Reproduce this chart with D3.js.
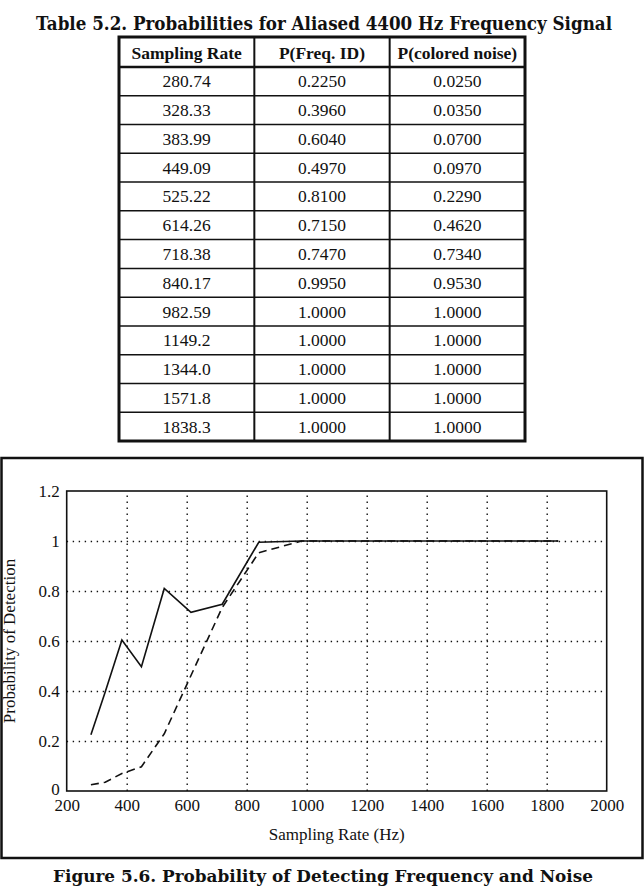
<!DOCTYPE html>
<html>
<head>
<meta charset="utf-8">
<script src="https://cdn.jsdelivr.net/npm/d3@7/dist/d3.min.js"></script>
<style>
  body { margin: 0; background: #fff; }
  svg { display: block; }
  .serif { font-family: "Liberation Serif", "Times New Roman", serif; fill: #111; }
  .heavy { font-family: "DejaVu Serif", serif; font-weight: bold; fill: #111; }
</style>
</head>
<body>
<svg id="page" width="644" height="888"></svg>
<script>
// table / chart values
var samplingRate = [280.74, 328.33, 383.99, 449.09, 525.22, 614.26, 718.38, 840.17, 982.59, 1149.2, 1344.0, 1571.8, 1838.3];
var pFreqId = [0.2250, 0.3960, 0.6040, 0.4970, 0.8100, 0.7150, 0.7470, 0.9950, 1.0000, 1.0000, 1.0000, 1.0000, 1.0000];
var pColoredNoise = [0.0250, 0.0350, 0.0700, 0.0970, 0.2290, 0.4620, 0.7340, 0.9530, 1.0000, 1.0000, 1.0000, 1.0000, 1.0000];
var tableHeaders = ["Sampling Rate", "P(Freq. ID)", "P(colored noise)"];
var xTicks = [200, 400, 600, 800, 1000, 1200, 1400, 1600, 1800, 2000];
var yTicks = [0, 0.2, 0.4, 0.6, 0.8, 1, 1.2];
var tableTitle = "Table 5.2.  Probabilities for Aliased 4400 Hz Frequency Signal";
var figureCaption = "Figure 5.6.  Probability of Detecting Frequency and Noise";
var xTitle = "Sampling Rate (Hz)";
var yTitle = "Probability of Detection";

var svg = d3.select("#page");
var ink = "#111";

/*
 * table title + table
 */
svg.append("text")
    .attr("class", "heavy")
    .attr("x", 324)
    .attr("y", 30)
    .attr("text-anchor", "middle")
    .attr("font-size", 18)
    .attr("textLength", 576)
    .attr("lengthAdjust", "spacingAndGlyphs")
    .text(tableTitle);

var tbl = { left: 119, right: 525, top: 37, headBottom: 67, bottom: 441 };
var col = d3.scaleBand().domain(d3.range(tableHeaders.length)).range([tbl.left, tbl.right]);
var row = d3.scaleBand().domain(d3.range(samplingRate.length)).range([tbl.headBottom, tbl.bottom]);
var rateFmt = d3.format(".5r"),
    probFmt = d3.format(".4f");

var table = svg.append("g").attr("class", "table");

// row separators
table.selectAll("line.row")
    .data(d3.range(1, samplingRate.length))
    .join("line")
    .attr("class", "row")
    .attr("x1", tbl.left).attr("x2", tbl.right)
    .attr("y1", function(i) { return row(i); })
    .attr("y2", function(i) { return row(i); })
    .attr("stroke", ink).attr("stroke-width", 1.5);

// column separators
table.selectAll("line.col")
    .data(d3.range(1, tableHeaders.length))
    .join("line")
    .attr("class", "col")
    .attr("x1", function(i) { return col(i); })
    .attr("x2", function(i) { return col(i); })
    .attr("y1", tbl.top).attr("y2", tbl.bottom)
    .attr("stroke", ink).attr("stroke-width", 2);

// header bottom rule
table.append("line")
    .attr("x1", tbl.left).attr("x2", tbl.right)
    .attr("y1", tbl.headBottom).attr("y2", tbl.headBottom)
    .attr("stroke", ink).attr("stroke-width", 2.5);

table.append("rect")
    .attr("x", tbl.left).attr("y", tbl.top)
    .attr("width", tbl.right - tbl.left)
    .attr("height", tbl.bottom - tbl.top)
    .attr("fill", "none")
    .attr("stroke", ink).attr("stroke-width", 3);

table.selectAll("text.head")
    .data(tableHeaders)
    .join("text")
    .attr("class", "head serif")
    .attr("x", function(d, i) { return col(i) + col.bandwidth() / 2; })
    .attr("y", 59)
    .attr("text-anchor", "middle")
    .attr("font-size", 17.5)
    .attr("font-weight", "bold")
    .text(function(d) { return d; });

var cells = [];
samplingRate.forEach(function(r, i) {
    cells.push({ i: i, c: 0, txt: rateFmt(r) });
    cells.push({ i: i, c: 1, txt: probFmt(pFreqId[i]) });
    cells.push({ i: i, c: 2, txt: probFmt(pColoredNoise[i]) });
});

table.selectAll("text.cell")
    .data(cells)
    .join("text")
    .attr("class", "cell serif")
    .attr("x", function(d) { return col(d.c) + col.bandwidth() / 2; })
    .attr("y", function(d) { return row(d.i) + row.bandwidth() / 2 + 6; })
    .attr("text-anchor", "middle")
    .attr("font-size", 17.5)
    .text(function(d) { return d.txt; });

/*
 * figure frame + plot
 */
svg.append("rect")
    .attr("x", 1.5).attr("y", 458)
    .attr("width", 641).attr("height", 400)
    .attr("fill", "none")
    .attr("stroke", ink).attr("stroke-width", 2.5);

var plot = { left: 66.7, right: 606.7, top: 491, bottom: 791 };
var x = d3.scaleLinear().domain([200, 2000]).range([plot.left, plot.right]);
var y = d3.scaleLinear().domain([0, 1.2]).range([plot.bottom, plot.top]);

var chart = svg.append("g").attr("class", "chart");

// dotted grid
chart.append("g")
    .attr("transform", "translate(0," + plot.bottom + ")")
    .call(d3.axisBottom(x).tickValues(xTicks.slice(1, -1))
        .tickSize(-(plot.bottom - plot.top)).tickFormat(""))
    .call(function(g) { g.select(".domain").remove(); })
    .selectAll("line")
    .attr("stroke", ink).attr("stroke-width", 1.4)
    .attr("stroke-dasharray", "1.4,4.6");

chart.append("g")
    .attr("transform", "translate(" + plot.left + ",0)")
    .call(d3.axisLeft(y).tickValues(yTicks.slice(1, -1))
        .tickSize(-(plot.right - plot.left)).tickFormat(""))
    .call(function(g) { g.select(".domain").remove(); })
    .selectAll("line")
    .attr("stroke", ink).attr("stroke-width", 1.4)
    .attr("stroke-dasharray", "1.4,4.6");

// tick labels
chart.append("g")
    .attr("transform", "translate(0," + plot.bottom + ")")
    .call(d3.axisBottom(x).tickValues(xTicks).tickSize(0).tickPadding(8).tickFormat(d3.format("d")))
    .call(function(g) { g.select(".domain").remove(); })
    .selectAll("text")
    .attr("class", "serif")
    .attr("font-size", 17);

chart.append("g")
    .attr("transform", "translate(" + plot.left + ",0)")
    .call(d3.axisLeft(y).tickValues(yTicks).tickSize(0).tickPadding(7).tickFormat(d3.format("~g")))
    .call(function(g) { g.select(".domain").remove(); })
    .selectAll("text")
    .attr("class", "serif")
    .attr("font-size", 17)
    .attr("dy", function(d) { return d === 0 ? "0.2em" : "0.32em"; });

chart.selectAll(".tick text").style("fill", ink);

// data lines
var pts = samplingRate.map(function(r, i) { return { r: r, f: pFreqId[i], n: pColoredNoise[i] }; });

chart.append("path")
    .datum(pts)
    .attr("fill", "none")
    .attr("stroke", ink).attr("stroke-width", 1.6)
    .attr("d", d3.line().x(function(d) { return x(d.r); }).y(function(d) { return y(d.f); }));

chart.append("path")
    .datum(pts)
    .attr("fill", "none")
    .attr("stroke", ink).attr("stroke-width", 1.6)
    .attr("stroke-dasharray", "8,5")
    .attr("d", d3.line().x(function(d) { return x(d.r); }).y(function(d) { return y(d.n); }));

// plot box
chart.append("rect")
    .attr("x", plot.left).attr("y", plot.top)
    .attr("width", plot.right - plot.left)
    .attr("height", plot.bottom - plot.top)
    .attr("fill", "none")
    .attr("stroke", ink).attr("stroke-width", 1.6);

// axis titles
chart.append("text")
    .attr("class", "serif")
    .attr("x", (plot.left + plot.right) / 2)
    .attr("y", 840)
    .attr("text-anchor", "middle")
    .attr("font-size", 17)
    .text(xTitle);

chart.append("text")
    .attr("class", "serif")
    .attr("transform", "translate(15," + ((plot.top + plot.bottom) / 2) + ") rotate(-90)")
    .attr("text-anchor", "middle")
    .attr("font-size", 17)
    .text(yTitle);

svg.append("text")
    .attr("class", "heavy")
    .attr("x", 323)
    .attr("y", 882)
    .attr("text-anchor", "middle")
    .attr("font-size", 17)
    .attr("textLength", 540)
    .attr("lengthAdjust", "spacingAndGlyphs")
    .text(figureCaption);
</script>
</body>
</html>
